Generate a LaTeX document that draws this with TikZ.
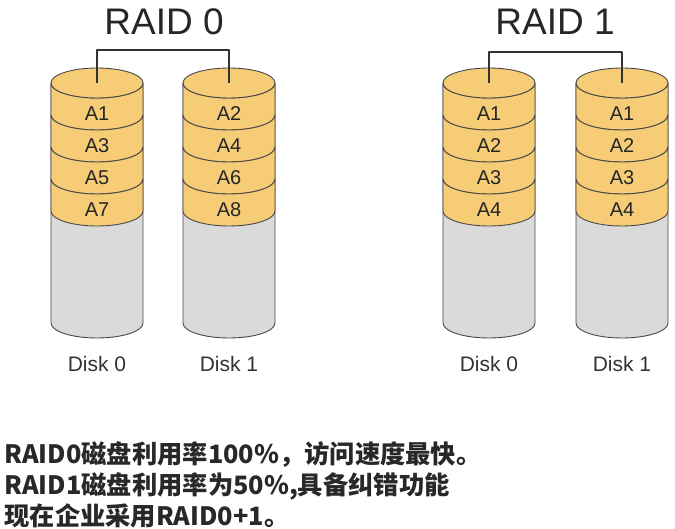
\documentclass[tikz,border=0pt]{standalone}
\usepackage{fontspec}
\setmainfont{Liberation Sans}
\newfontfamily\cjk{Noto Sans CJK SC}
\definecolor{band}{RGB}{246,205,118}
\definecolor{body}{RGB}{218,218,218}
\definecolor{rim}{RGB}{72,72,72}
\definecolor{ink}{RGB}{40,40,40}
\tikzset{
  title/.style={anchor=base,inner sep=0pt,text=black!85,font=\fontsize{37}{37}\selectfont},
  disklabel/.style={anchor=base,inner sep=0pt,text=black!80,font=\fontsize{21}{21}\selectfont},
  blocklabel/.style={inner sep=0pt,text=black!85,font=\fontsize{20}{20}\selectfont},
  note/.style={anchor=base west,inner sep=0pt,text=ink,font=\cjk\bfseries\fontsize{25.3}{25.3}\selectfont},
  wire/.style={draw=black!80,line width=1.1pt}
}
\begin{document}
\begin{tikzpicture}[x=1pt,y=1pt,line join=round,line width=0.9pt]
\useasboundingbox (0,0) rectangle (675,-529);

% titles
\node[title] (raid0) at (164,-35) {RAID 0};
\node[title] (raid1) at (555,-35) {RAID 1};

% disks
\foreach \cx/\nm/\lb/\blocks in {97/r0d0/Disk 0/{A1,A3,A5,A7},229/r0d1/Disk 1/{A2,A4,A6,A8},489/r1d0/Disk 0/{A1,A2,A3,A4},622/r1d1/Disk 1/{A1,A2,A3,A4}}{
  \filldraw[color=rim,fill=body](\cx-46,-83)--(\cx-46,-323) arc[start angle=180,end angle=360,x radius=46pt,y radius=15pt]--(\cx+46,-83)--cycle;
  \foreach \b [count=\k] in \blocks {
    \pgfmathsetmacro\yt{-83-32*(\k-1)}
    \filldraw[color=rim,fill=band](\cx-46,\yt)--++(0,-32) arc[start angle=180,end angle=360,x radius=46pt,y radius=15pt]--++(0,32) arc[start angle=0,end angle=-180,x radius=46pt,y radius=15pt]--cycle;
    \node[blocklabel] (\nm-\k) at (\cx,\yt-31) {\b};
  }
  \filldraw[color=rim,fill=band](\cx,-83) ellipse[x radius=46pt,y radius=15pt];
  \coordinate (\nm) at (\cx,-83);
  \node[disklabel] (\nm-lb) at (\cx,-371) {\lb};
}

% connectors
\draw[wire] (r0d0)--++(0,33)-|(r0d1);
\draw[wire] (r1d0)--++(0,31)-|(r1d1);

% notes
\node[note] (n1) at (4,-463) {RAID0磁盘利用率100\%，访问速度最快。};
\node[note] (n2) at (4,-494) {RAID1磁盘利用率为50\%,具备纠错功能};
\node[note] (n3) at (4,-525) {现在企业采用RAID0+1。};
\end{tikzpicture}
\end{document}
